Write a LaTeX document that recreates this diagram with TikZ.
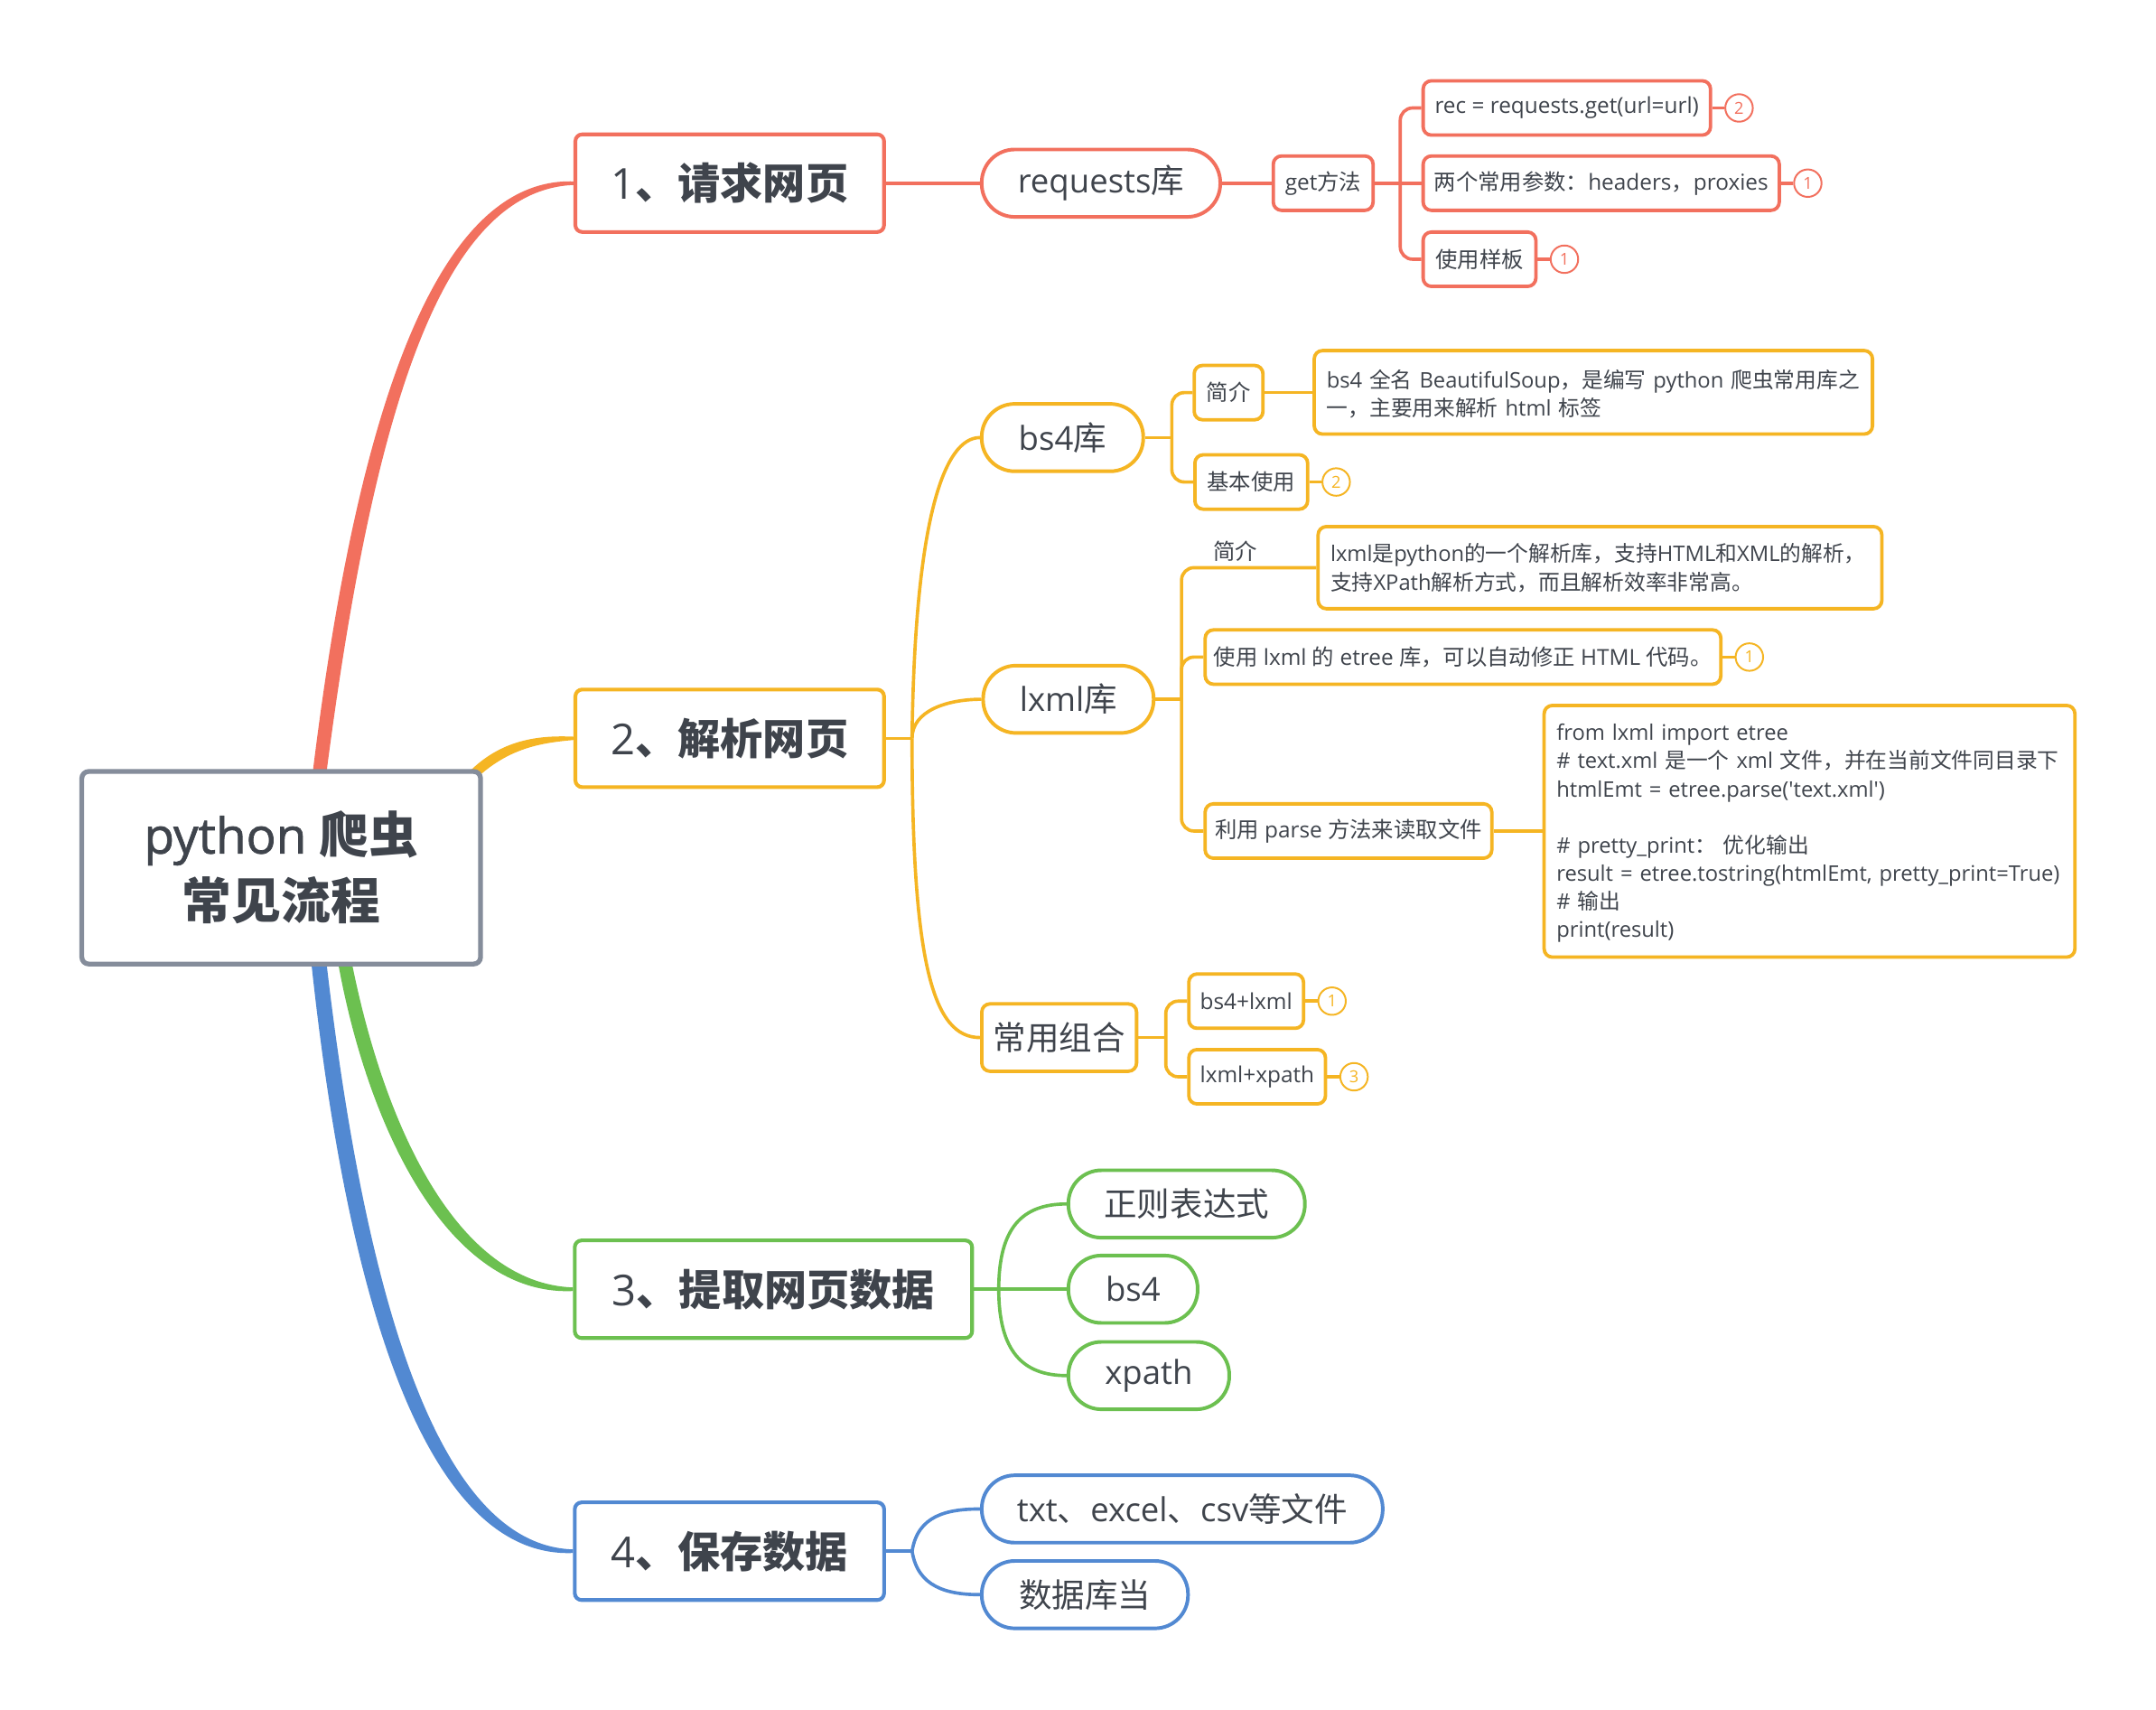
\documentclass[tikz,border=0pt]{standalone}
\usepackage{fontspec}
\setmainfont{Open Sans}[Ligatures=TeXOff]
\newfontfamily\cjk{Noto Sans CJK SC}
\newfontfamily\semib{Open Sans}[FakeBold=1.3]
\usetikzlibrary{calc}
\pgfdeclarelayer{bg}
\pgfsetlayers{bg,main}
\definecolor{cred}{HTML}{F2705E}
\definecolor{cyel}{HTML}{F5B523}
\definecolor{cgrn}{HTML}{6CC050}
\definecolor{cblu}{HTML}{5289D2}
\definecolor{cgry}{HTML}{858D9B}
\definecolor{ctxt}{HTML}{3F444C}
\newcommand\zh[1]{{\cjk #1}}
\newcommand\zhb[1]{{\cjk\bfseries #1}}
\newcommand\tline[1]{\noindent\makebox[\linewidth][l]{#1}}
\tikzset{
 rootbox/.style={draw=cgry, line width=3.5pt, rounded corners=5pt, fill=white, inner sep=0pt, align=center, font=\fontsize{36}{48}\selectfont, text=ctxt},
 lone/.style={draw=#1, line width=2.7pt, rounded corners=5pt, fill=white, inner sep=0pt, minimum height=71pt, font=\fontsize{31}{36}\selectfont, text=ctxt},
 pill/.style={draw=#1, line width=2.6pt, rounded corners=24pt, fill=white, inner sep=0pt, minimum height=49pt, font=\fontsize{24}{28}\selectfont, text=ctxt},
 sbox/.style={draw=#1, line width=2.5pt, rounded corners=6pt, fill=white, inner sep=0pt, minimum height=39.5pt, font=\fontsize{16}{20}\selectfont, text=ctxt},
 tbox/.style={draw=#1, line width=2.5pt, rounded corners=6pt, fill=white, inner xsep=9pt, inner ysep=0pt, align=left, font=\fontsize{15.6}{20.4}\selectfont, text=ctxt},
 badge/.style={circle, draw=#1, line width=1.3pt, fill=white, inner sep=0pt, minimum size=20pt, font=\fontsize{12}{12}\selectfont, text=#1},
 conn/.style={draw=#1, line width=2.4pt},
}
\begin{document}
\begin{tikzpicture}[x=1pt,y=-1pt]
\useasboundingbox (0,0) rectangle (1568,1243);

% root
\node[rootbox, minimum width=290pt, minimum height=140pt] (root) at (204.5,631) {{\semib python} \zhb{爬虫}\\\zhb{常见流程}};

% level 1
\node[lone=cred, minimum width=224.5pt] (b1) at (530.7,133.2) {1\zhb{、请求网页}};
\node[lone=cyel, minimum width=224.5pt] (b2) at (530.7,536.9) {2\zhb{、解析网页}};
\node[lone=cgrn, minimum width=289pt] (b3) at (562.5,937.5) {3\zhb{、提取网页数据}};
\node[lone=cblu, minimum width=225pt] (b4) at (530.5,1128) {4\zhb{、保存数据}};

% branch 1
\node[pill=cred, minimum width=173.5pt] (req) at (800.7,133.2) {requests\zh{库}};
\node[sbox=cred, minimum width=72.6pt] (get) at (962.3,133.2) {get\zh{方法}};
\node[sbox=cred, minimum width=209pt] (c1) at (1139.5,78.5) {rec = requests.get(url=url)};
\node[sbox=cred, minimum width=259pt] (c2) at (1164.5,133.2) {\zh{两个常用参数：}headers\zh{，}proxies};
\node[sbox=cred, minimum width=82pt] (c3) at (1076,188.5) {\zh{使用样板}};
\node[badge=cred] (c1n) at ($(c1.east)+(19.5,0)$) {2};
\node[badge=cred] (c2n) at ($(c2.east)+(19.5,0)$) {1};
\node[badge=cred] (c3n) at ($(c3.east)+(19.5,0)$) {1};

% branch 2
\node[pill=cyel, minimum width=117.5pt] (bs4) at (772.7,318.2) {bs4\zh{库}};
\node[sbox=cyel, minimum width=50pt] (jj) at (893.5,285.5) {\zh{简介}};
\node[sbox=cyel, minimum width=82pt] (jb) at (910,350.5) {\zh{基本使用}};
\node[badge=cyel] (jbn) at ($(jb.east)+(19.5,0)$) {2};
\node[tbox=cyel, text width=388pt, minimum height=60.7pt] (bsd) at (1158.8,285.3) {\tline{\rule{0pt}{27pt}bs4 \zh{全名} BeautifulSoup\zh{，是编写} python \zh{爬虫常用库之}}\\\tline{\rule[-13pt]{0pt}{13pt}\zh{一，主要用来解析} html \zh{标签}}};

\node[pill=cyel, minimum width=124pt] (lxml) at (777,508.5) {lxml\zh{库}};
\node[font=\fontsize{16}{20}\selectfont, text=ctxt, inner sep=0pt] (lxjj) at (898.5,400.5) {\zh{简介}};
\node[tbox=cyel, text width=392pt, minimum height=59.7pt, font=\fontsize{15.6}{21.4}\selectfont] (lxd) at (1163.6,412.8) {\tline{\rule{0pt}{25pt}lxml\zh{是}python\zh{的一个解析库，支持}HTML\zh{和}XML\zh{的解析，}}\\\tline{\rule[-13.3pt]{0pt}{13.3pt}\zh{支持}XPath\zh{解析方式，而且解析效率非常高。}}};
\node[sbox=cyel, minimum width=375pt] (etree) at (1064,477.8) {\zh{使用} lxml \zh{的} etree \zh{库，可以自动修正} HTML \zh{代码。}};
\node[badge=cyel] (etn) at ($(etree.east)+(19.5,0)$) {1};
\node[sbox=cyel, minimum width=208.5pt] (parse) at (980.7,604.3) {\zh{利用} parse \zh{方法来读取文件}};
\node[tbox=cyel, text width=368pt, minimum height=183pt] (code) at (1316,604.5) {\tline{\rule{0pt}{25.5pt}from lxml import etree}\\
\tline{\# text.xml \zh{是一个} xml \zh{文件，并在当前文件同目录下}}\\
\tline{htmlEmt = etree.parse('text.xml')}\\[20.4pt]
\tline{\# pretty\_print\zh{：} \zh{优化输出}}\\
\tline{result = etree.tostring(htmlEmt, pretty\_print=True)}\\
\tline{\# \zh{输出}}\\
\tline{\rule[-14.5pt]{0pt}{14.5pt}print(result)}};

\node[sbox=cyel, minimum width=112.6pt, minimum height=49pt, font=\fontsize{24}{28}\selectfont] (cy) at (770.3,754.5) {\zh{常用组合}};
\node[sbox=cyel, minimum width=83.4pt] (bl) at (906.3,728) {bs4+lxml};
\node[badge=cyel] (bln) at ($(bl.east)+(19.5,0)$) {1};
\node[sbox=cyel, minimum width=99.4pt] (lx) at (914.3,783) {lxml+xpath};
\node[badge=cyel] (lxn) at ($(lx.east)+(19.5,0)$) {3};

% branch 3
\node[pill=cgrn, minimum width=172pt] (zz) at (863,875.5) {\zh{正则表达式}};
\node[pill=cgrn, minimum width=94pt] (bs) at (824,937.5) {bs4};
\node[pill=cgrn, minimum width=117pt] (xp) at (835.5,1000.3) {xpath};

% branch 4
\node[pill=cblu, minimum width=291.6pt] (txt) at (859.8,1097.3) {txt\zh{、}excel\zh{、}csv\zh{等文件}};
\node[pill=cblu, minimum width=150pt] (sj) at (789,1159.6) {\zh{数据库当}};

\begin{pgfonlayer}{bg}
\fill[white] (0,0) rectangle (1568,1243);
% tapered main branches
\fill[cred] ($(root.north)+(23,2)$) .. controls +(32,-262) and +(-100,-3) .. ($(b1.west)+(0,-1.3)$) -- ($(b1.west)+(0,1.3)$) .. controls +(-96,4) and +(34,-262) .. ($(root.north)+(33,2)$) -- cycle;
\fill[cyel] ($(root.north east)+(-8.5,0.5)$) .. controls +(24,-23) and +(-23,-1) .. ($(b2.west)+(0,-1.2)$) -- ($(b2.west)+(0,1.2)$) .. controls +(-22,2) and +(24,-22) .. ($(root.north east)+(-4,6)$) -- cycle;
\fill[cgrn] ($(root.south)+(41.5,-2)$) .. controls +(22,121) and +(-90,4) .. ($(b3.west)+(0,1.3)$) -- ($(b3.west)+(0,-1.3)$) .. controls +(-84,-3) and +(24,119) .. ($(root.south)+(51.5,-2)$) -- cycle;
\fill[cblu] ($(root.south)+(22,-2)$) .. controls +(28,262) and +(-102,4) .. ($(b4.west)+(0,1.3)$) -- ($(b4.west)+(0,-1.3)$) .. controls +(-94,-3) and +(30,258) .. ($(root.south)+(33,-2)$) -- cycle;

% branch 1 connectors
\draw[conn=cred] (b1.east) -- (req.west);
\draw[conn=cred] (req.east) -- (get.west);
\coordinate (gj) at ($(get.east)+(18.5,0)$);
\draw[conn=cred] (get.east) -- (get.east -| c2.west);
\draw[conn=cred, rounded corners=9pt] (c1.west) -| (gj) |- (c3.west);
\draw[conn=cred] (c1.east) -- (c1n.west);
\draw[conn=cred] (c2.east) -- (c2n.west);
\draw[conn=cred] (c3.east) -- (c3n.west);

% branch 2 connectors
\coordinate (yj) at ($(b2.east)+(19,0)$);
\draw[conn=cyel] (b2.east) -- (yj);
\draw[conn=cyel] (yj) .. controls +(2,-160) and +(-26,0) .. (bs4.west);
\draw[conn=cyel] (yj) .. controls +(0,-20) and +(-25,0) .. (lxml.west);
\draw[conn=cyel] (yj) .. controls +(0,165) and +(-34,0) .. (cy.west);

\coordinate (bj) at ($(bs4.east)+(19.5,0)$);
\draw[conn=cyel] (bs4.east) -- (bj);
\draw[conn=cyel, rounded corners=9pt] (jj.west) -| (bj) |- (jb.west);
\draw[conn=cyel] (jj.east) -- (jj.east -| bsd.west);
\draw[conn=cyel] (jb.east) -- (jbn.west);

\coordinate (lj) at ($(lxml.east)+(19,0)$);
\draw[conn=cyel] (lxml.east) -- (lj);
\draw[conn=cyel, rounded corners=9pt] (lxd.west) -| (lj) |- (parse.west);
\draw[conn=cyel, rounded corners=9pt] (lj) |- (etree.west);
\draw[conn=cyel] (etree.east) -- (etn.west);
\draw[conn=cyel] (parse.east) -- (parse.east -| code.west);

\coordinate (cj) at ($(cy.east)+(20,0)$);
\draw[conn=cyel] (cy.east) -- (cj);
\draw[conn=cyel, rounded corners=9pt] (bl.west) -| (cj) |- (lx.west);
\draw[conn=cyel] (bl.east) -- (bln.west);
\draw[conn=cyel] (lx.east) -- (lxn.west);

% branch 3 connectors
\coordinate (g3) at ($(b3.east)+(18,0)$);
\draw[conn=cgrn] (b3.east) -- (bs.west);
\draw[conn=cgrn] (g3) .. controls +(0,-45) and +(-32,0) .. (zz.west);
\draw[conn=cgrn] (g3) .. controls +(0,45) and +(-32,0) .. (xp.west);

% branch 4 connectors
\coordinate (u4) at ($(b4.east)+(19,0)$);
\draw[conn=cblu] (b4.east) -- (u4);
\draw[conn=cblu] (u4) .. controls +(4,-26) and +(-24,0) .. (txt.west);
\draw[conn=cblu] (u4) .. controls +(4,26) and +(-24,0) .. (sj.west);
\end{pgfonlayer}
\end{tikzpicture}
\end{document}
